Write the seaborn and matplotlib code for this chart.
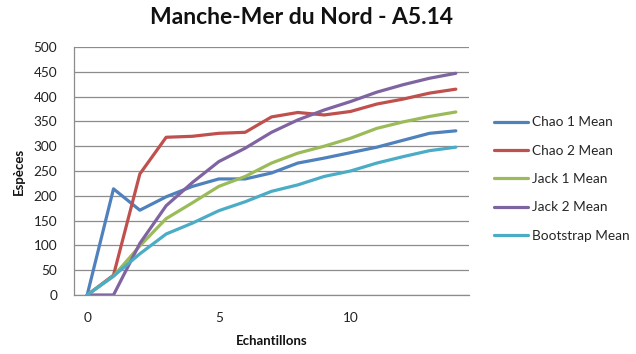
import matplotlib
matplotlib.use("Agg")
import matplotlib.pyplot as plt
import seaborn as sns
import pandas as pd
import numpy as np

# Species richness estimators vs. number of samples
samples = list(range(15))
chao1 = [0, 214, 171, 198, 219, 234, 234, 246, 266, 276, 287, 298, 312, 326, 331]
chao2 = [0, 40, 244, 318, 320, 326, 328, 359, 368, 363, 370, 385, 395, 407, 415]
jack1 = [0, 38, 99, 154, 186, 219, 239, 266, 286, 300, 316, 336, 349, 360, 369]
jack2 = [0, 0, 104, 180, 227, 269, 296, 328, 353, 373, 390, 409, 424, 437, 447]
bootstrap = [0, 38, 83, 123, 145, 170, 188, 209, 222, 239, 250, 266, 279, 291, 298]

series_names = ["Chao 1 Mean", "Chao 2 Mean", "Jack 1 Mean", "Jack 2 Mean", "Bootstrap Mean"]
series_values = [chao1, chao2, jack1, jack2, bootstrap]
palette = ["#4F81BD", "#C0504D", "#9BBB59", "#8064A2", "#4BACC6"]

title = "Manche-Mer du Nord - A5.14"
x_label = "Echantillons"
y_label = "Espèces"
x_tick_values = [0, 5, 10]
y_tick_values = list(range(0, 501, 50))

df = pd.DataFrame({
    "Echantillons": samples * len(series_names),
    "Espèces": sum(series_values, []),
    "Série": np.repeat(series_names, len(samples)),
})

sns.set_theme(style="white")
plt.rcParams["font.family"] = ["Lato", "DejaVu Sans"]

fig = plt.figure(figsize=(6.36, 3.54), dpi=100)
ax = fig.add_axes([74 / 636, 1 - 295 / 354, (469 - 74) / 636, (295 - 47) / 354])

grid_col = "#8C8C8C"
ax.set_ylim(0, 500)
ax.set_xlim(-0.5, 14.5)
ax.set_yticks(y_tick_values)
ax.yaxis.grid(True, color=grid_col, linewidth=0.9)
ax.set_axisbelow(True)

sns.lineplot(data=df, x="Echantillons", y="Espèces", hue="Série",
             palette=palette, linewidth=2.3, ax=ax, legend=True)

# axes styling
for side in ["top", "right"]:
    ax.spines[side].set_visible(False)
for side in ["left", "bottom"]:
    ax.spines[side].set_color(grid_col)
    ax.spines[side].set_linewidth(0.9)

ax.set_xticks(x_tick_values)
ax.set_xticks(np.arange(-0.5, 15, 1.0), minor=True)
ax.tick_params(axis="x", which="major", length=0, pad=12, labelsize=9.8, colors="#222222")
ax.tick_params(axis="x", which="minor", length=5, width=0.9, color=grid_col, direction="out")
ax.tick_params(axis="y", which="major", length=5, width=0.9, color=grid_col,
               direction="out", pad=7, labelsize=9.8, labelcolor="#222222")
ax.tick_params(axis="y", which="minor", length=0)

ax.set_xlabel(x_label, fontsize=9.5, fontweight="bold", color="#111111", labelpad=8)
ax.set_ylabel(y_label, fontsize=9.5, fontweight="bold", color="#111111", labelpad=6)

fig.text(302 / 636, 1 - 18 / 354, title, ha="center", va="center",
         fontsize=16.5, fontweight="bold", color="#111111")

handles, labels = ax.get_legend_handles_labels()
ax.legend(handles, labels, loc="center left", bbox_to_anchor=(489 / 636, 1 - 179 / 354),
          bbox_transform=fig.transFigure, frameon=False, fontsize=9.8,
          handlelength=2.5, handletextpad=0.25, labelspacing=1.2, borderaxespad=0)

fig.savefig("out.png", dpi=100)
